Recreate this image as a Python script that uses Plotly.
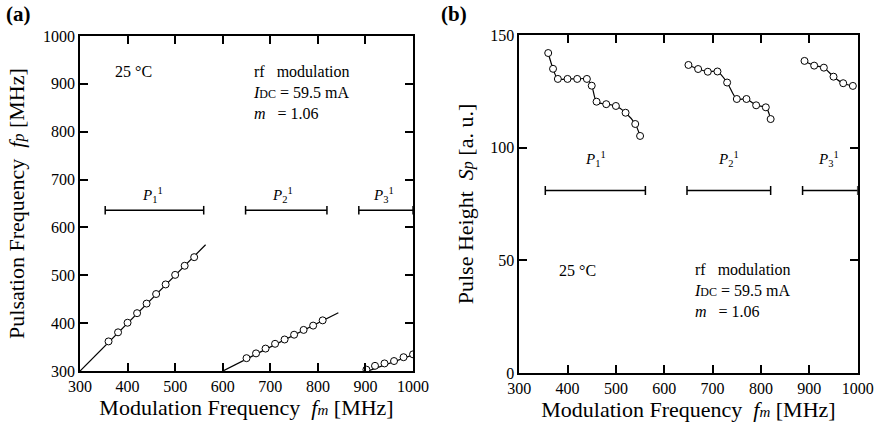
import plotly.graph_objects as go

# ---------- data (a) ----------
a_p1_x = [360, 380, 400, 420, 440, 460, 480, 500, 520, 540]
a_p1_y = [362, 381, 401, 421, 441, 461, 481, 501, 520, 538]
a_p2_x = [650, 670, 690, 710, 730, 750, 770, 790, 810]
a_p2_y = [327, 337, 347, 357, 366, 376, 386, 395, 406]
a_p3_x = [902, 920, 940, 960, 980, 1000]
a_p3_y = [303, 311, 316, 321, 329, 335]
a_fit1_x = [300, 564]
a_fit1_y = [300, 564]
a_fit2_x = [600, 843]
a_fit2_y = [300, 422]
a_fit3_x = [905, 1000]
a_fit3_y = [300, 334]

# ---------- data (b) ----------
b_p1_x = [360, 370, 380, 400, 420, 440, 450, 460, 480, 500, 520, 540, 550]
b_p1_y = [142, 135, 130.5, 130.5, 130.5, 130.5, 127.5, 120.4, 119.3, 118.5, 115.5, 110.5, 105.2]
b_p2_x = [650, 670, 690, 710, 730, 750, 770, 790, 810, 820]
b_p2_y = [136.7, 134.9, 133.7, 133.8, 128.9, 121.6, 121.6, 118.8, 117.9, 112.7]
b_p3_x = [890, 910, 930, 950, 970, 990]
b_p3_y = [138.5, 136.4, 135.5, 131.5, 128.6, 127.4]

# ---------- ranges (bars) ----------
bar_labels = ["<i>P</i><sub>1</sub><sup>1</sup>", "<i>P</i><sub>2</sub><sup>1</sup>", "<i>P</i><sub>3</sub><sup>1</sup>"]
a_bar_start = [353, 648, 886]
a_bar_end = [560, 819, 1000]
a_bar_y = 636
a_label_x = [453, 725, 938]
a_label_y = 668
b_bar_start = [354, 647, 886]
b_bar_end = [561, 820, 1000]
b_bar_y = 81
b_label_x = [457, 732, 939]
b_label_y = 95

xticks = [300, 400, 500, 600, 700, 800, 900, 1000]
a_yticks = [300, 400, 500, 600, 700, 800, 900, 1000]
b_yticks = [0, 50, 100, 150]

FONT = "Liberation Serif, Times New Roman, DejaVu Serif, serif"
fig = go.Figure()

def add_line(x, y, xa, ya, shape="linear"):
    fig.add_trace(go.Scatter(x=x, y=y, mode="lines", line=dict(color="black", width=1.2, shape=shape, smoothing=0.8),
                             xaxis=xa, yaxis=ya, showlegend=False, hoverinfo="skip"))

def add_pts(x, y, xa, ya):
    fig.add_trace(go.Scatter(x=x, y=y, mode="markers", marker=dict(symbol="circle", size=7, color="white",
                             line=dict(width=1, color="black")), xaxis=xa, yaxis=ya, showlegend=False))

for fx, fy in [(a_fit1_x, a_fit1_y), (a_fit2_x, a_fit2_y), (a_fit3_x, a_fit3_y)]:
    add_line(fx, fy, "x", "y")
for px, py in [(a_p1_x, a_p1_y), (a_p2_x, a_p2_y), (a_p3_x, a_p3_y)]:
    add_pts(px, py, "x", "y")

for px, py in [(b_p1_x, b_p1_y), (b_p2_x, b_p2_y), (b_p3_x, b_p3_y)]:
    add_line(px, py, "x2", "y2", shape="spline")
    add_pts(px, py, "x2", "y2")

shapes = []
annotations = []
def bars(starts, ends, yv, cap, xr, yr):
    for s, e in zip(starts, ends):
        shapes.append(dict(type="line", xref=xr, yref=yr, x0=s, x1=e, y0=yv, y1=yv, line=dict(color="black", width=1.5)))
        for xv in (s, e):
            shapes.append(dict(type="line", xref=xr, yref=yr, x0=xv, x1=xv, y0=yv - cap, y1=yv + cap,
                               line=dict(color="black", width=1.5)))

bars(a_bar_start, a_bar_end, a_bar_y, 9, "x", "y")
bars(b_bar_start, b_bar_end, b_bar_y, 2, "x2", "y2")

for lab, lx in zip(bar_labels, a_label_x):
    annotations.append(dict(text=lab, x=lx, y=a_label_y, xref="x", yref="y", showarrow=False,
                            font=dict(family=FONT, size=15, color="black")))
for lab, lx in zip(bar_labels, b_label_x):
    annotations.append(dict(text=lab, x=lx, y=b_label_y, xref="x2", yref="y2", showarrow=False,
                            font=dict(family=FONT, size=15, color="black")))

cond = ("rf\u00a0\u00a0\u00a0modulation<br><i>I</i><span style='font-size:12px'>DC</span> = 59.5 mA"
        "<br><i>m</i>\u00a0\u00a0\u00a0= 1.06")
annotations += [
    dict(text="25 °C", x=370, y=925, xref="x", yref="y", xanchor="left", showarrow=False,
         font=dict(family=FONT, size=16, color="black")),
    dict(text=cond, x=660, y=947, xref="x", yref="y", xanchor="left", yanchor="top", align="left", showarrow=False,
         font=dict(family=FONT, size=16, color="black")),
    dict(text="25 °C", x=378, y=45.5, xref="x2", yref="y2", xanchor="left", showarrow=False,
         font=dict(family=FONT, size=16, color="black")),
    dict(text=cond, x=657, y=50.5, xref="x2", yref="y2", xanchor="left", yanchor="top", align="left", showarrow=False,
         font=dict(family=FONT, size=16, color="black")),
    dict(text="<b>(a)</b>", x=0.005, y=1.0, xref="paper", yref="paper", xanchor="left", yanchor="top", showarrow=False,
         font=dict(family=FONT, size=21, color="black")),
    dict(text="<b>(b)</b>", x=0.5, y=1.0, xref="paper", yref="paper", xanchor="left", yanchor="top", showarrow=False,
         font=dict(family=FONT, size=21, color="black")),
]

xtitle = "Modulation Frequency\u00a0\u00a0<i>f<span style='font-size:15px'>m</span></i> [MHz]"
ytitle_a = "Pulsation Frequency\u00a0\u00a0<i>f<span style='font-size:16px'>p</span></i> [MHz]"
ytitle_b = "Pulse Height\u00a0\u00a0<i>S<span style='font-size:16px'>p</span></i> [a. u.]"
axis_common = dict(showgrid=False, zeroline=False, showline=True, linecolor="black", linewidth=1.5, mirror="allticks",
                   ticks="inside", ticklen=8, tickwidth=1.5, tickcolor="black", automargin=False,
                   tickfont=dict(family=FONT, size=16, color="black"))

fig.update_layout(
    width=877, height=431, margin=dict(l=0, r=0, t=0, b=0, autoexpand=False),
    paper_bgcolor="white", plot_bgcolor="white",
    font=dict(family=FONT, color="black"),
    shapes=shapes, annotations=annotations, showlegend=False,
    xaxis=dict(axis_common, domain=[0.0912, 0.471], range=[300, 1000], tickvals=xticks, anchor="y",
               title=dict(text=xtitle, font=dict(family=FONT, size=22, color="black"), standoff=2)),
    yaxis=dict(axis_common, domain=[0.139, 0.9165], range=[300, 1000], tickvals=a_yticks, anchor="x",
               title=dict(text=ytitle_a, font=dict(family=FONT, size=22, color="black"), standoff=12)),
    xaxis2=dict(axis_common, domain=[0.592, 0.978], range=[300, 1000], tickvals=xticks, anchor="y2",
                title=dict(text=xtitle, font=dict(family=FONT, size=22, color="black"), standoff=2)),
    yaxis2=dict(axis_common, domain=[0.1346, 0.9188], range=[0, 150], tickvals=b_yticks, anchor="x2",
                title=dict(text=ytitle_b, font=dict(family=FONT, size=22, color="black"), standoff=11)),
)

fig.write_html("out.html")
